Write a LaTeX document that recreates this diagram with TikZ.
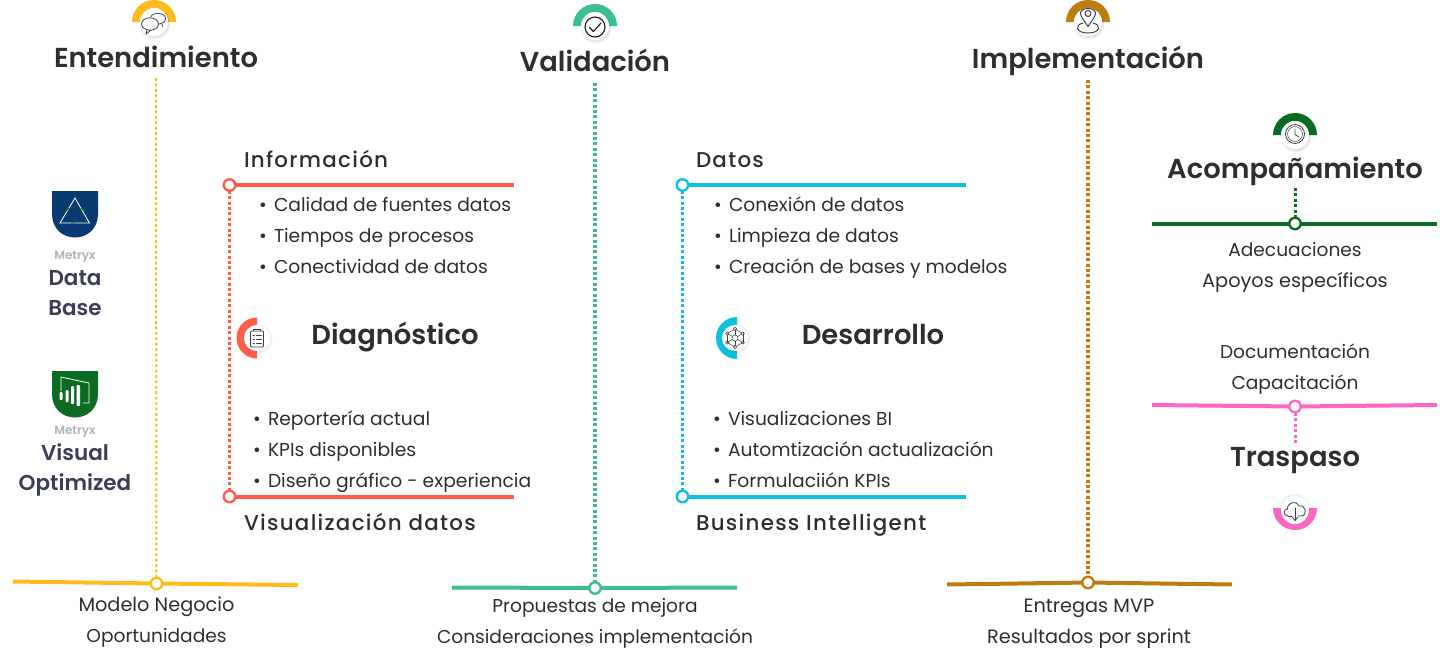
\documentclass[tikz,border=0pt]{standalone}
\usepackage{fontspec}
\setmainfont{Poppins}
\newfontfamily\semi{Poppins SemiBold}
\newfontfamily\spaced[LetterSpace=6]{Poppins Medium}
\newfontfamily\lite{Poppins}
\definecolor{ink}{HTML}{2E2E2E}
\definecolor{navy}{HTML}{3A3D55}
\definecolor{cY}{HTML}{FFBB1C}
\definecolor{cG}{HTML}{3CBE8F}
\definecolor{cB}{HTML}{BF7A10}
\definecolor{cD}{HTML}{0B6B22}
\definecolor{cP}{HTML}{FF66C4}
\definecolor{cR}{HTML}{FF5C4A}
\definecolor{cC}{HTML}{0CC0DF}
\definecolor{shN}{HTML}{0A3A72}
\definecolor{shG}{HTML}{0B6B22}
\tikzset{
  every node/.style={inner sep=0pt,outer sep=0pt},
  title/.style={font=\semi\fontsize{27.4}{30}\selectfont,text=ink,anchor=base},
  subt/.style={font=\spaced\fontsize{21.4}{24}\selectfont,text=ink,anchor=base west},
  body/.style={font=\lite\fontsize{18.6}{24}\selectfont,text=ink,anchor=base},
  bodyw/.style={font=\lite\fontsize{19.3}{24}\selectfont,text=ink,anchor=base},
  item/.style={font=\lite\fontsize{18.7}{24}\selectfont,text=ink,anchor=base west},
  logot/.style={font=\semi\fontsize{21.5}{24}\selectfont,text=navy,anchor=base},
  metr/.style={font=\semi\fontsize{12}{13}\selectfont,text=black!30,anchor=base},
  hub/.style={circle,draw=#1,line width=2.4pt,fill=white,minimum size=11.5pt},
  bar/.style={draw=#1,line width=4pt},
  dots/.style={draw=#1,line width=3pt,dash pattern=on 3pt off 2.4pt},
  disc/.style={circle,fill=white,minimum size=#1},
  icon/.style={draw=black!75,line width=.8pt,line join=round,line cap=round},
}
\newcommand{\topdisc}[4]{% x,y,color,name
  \fill[#3] (#1-22,#2) arc[start angle=180,end angle=360,radius=22] -- (#1+14,#2) arc[start angle=360,end angle=180,radius=14] -- cycle;
  \fill[black,opacity=.05] (#1+1,#2+2.5) circle[radius=15];
  \fill[black,opacity=.05] (#1+1,#2+1.5) circle[radius=14.5];
  \node[disc=28pt] (#4) at (#1,#2) {};
}
\newcommand{\itm}[1]{\makebox[15pt][l]{\textbullet}#1}
\begin{document}
\begin{tikzpicture}[x=1pt,y=-1pt]
\useasboundingbox (0,0) rectangle (1440,659);
\clip (0,0) rectangle (1440,659);

% ---- icons at top
\topdisc{154}{22}{cY}{iconA}
\draw[icon] (150,24) ellipse[x radius=8.5,y radius=6.2];
\draw[icon] (147,30) -- (146,34) -- (151,30.2);
\draw[icon] (151,16.5) .. controls (153,12) and (166,12) .. (165.5,19) .. controls (165.5,22) and (162,24) .. (159,24);
\draw[icon] (162,24) -- (162.5,26.5);

\topdisc{595}{26}{cG}{iconB}
\draw[icon,line width=1.1pt,draw=black!90] (595,27) circle[radius=10];
\draw[icon,line width=1.1pt,draw=black!90] (589.5,27.5) -- (593.5,31.5) -- (601,23);

\topdisc{1088}{22}{cB}{iconC}
\draw[icon,line width=1pt] (1088,26.5) .. controls (1084,20) and (1080.5,17) .. (1080.5,13) .. controls (1080.5,7) and (1095.5,7) .. (1095.5,13) .. controls (1095.5,17) and (1092,20) .. (1088,26.5);
\draw[icon,line width=1pt] (1088,13.5) circle[radius=3];
\draw[icon,line width=1pt] (1083,23) .. controls (1074,25) and (1076,33) .. (1088,33) .. controls (1100,33) and (1102,25) .. (1093,23);

\topdisc{1295}{135}{cD}{iconD}
\draw[icon,line width=.8pt] (1295,134) circle[radius=9.5];
\draw[icon,line width=.5pt] (1295,134) circle[radius=7.5];
\draw[icon] (1295,129) -- (1295,134.5) -- (1299,137);

% ---- left half discs
\fill[cR] (257,317.5) arc[start angle=270,end angle=90,radius=20.5] -- (257,351) arc[start angle=90,end angle=270,radius=13] -- cycle;
\fill[black,opacity=.06] (258.5,339) circle[radius=14];
\node[disc=26pt] (iconE) at (257,338) {};
\draw[icon,rounded corners=1pt] (250.5,331) rectangle (263.5,347);
\draw[icon] (253.5,331) -- (253.5,329) -- (260.5,329) -- (260.5,331);
\foreach \yy in {335,339,343} {\draw[icon,line width=.6pt] (253,\yy) -- (254.5,\yy) (256.5,\yy) -- (261.5,\yy);}

\fill[cC] (737,317) arc[start angle=270,end angle=90,radius=21] -- (737,351) arc[start angle=90,end angle=270,radius=13] -- cycle;
\fill[black,opacity=.06] (736.5,339) circle[radius=14];
\node[disc=26pt] (iconF) at (735,338) {};
\foreach \a in {30,90,150,210,270,330} {
  \draw[icon,line width=.5pt] (735,338) -- ++(\a:9);
  \draw[icon,line width=.5pt,fill=white] (735,338) ++(\a:9) circle[radius=1.7];
  \draw[icon,line width=.5pt] (735,338) ++(\a:9) -- ++(\a+120:9);
}
\draw[icon,line width=.5pt,fill=white] (735,338) circle[radius=3];

% bottom half disc
\fill[cP] (1273,508) arc[start angle=180,end angle=0,radius=22] -- (1309,508) arc[start angle=0,end angle=180,radius=14] -- cycle;
\fill[black,opacity=.05] (1295,508.5) circle[radius=15];
\node[disc=28pt] (iconG) at (1295,510) {};
\draw[icon] (1288,516) .. controls (1283,516) and (1283,509) .. (1287.5,509) .. controls (1287,502) and (1297,500) .. (1299,506) .. controls (1306,504) and (1308,516) .. (1301,516) -- (1298,516);
\draw[icon] (1292,516) -- (1288,516);
\draw[icon] (1295,508) -- (1295,520);
\draw[icon] (1292.5,517.5) -- (1295,520.5) -- (1297.5,517.5);

% ---- hubs
\node[hub=cY] (hA) at (156.5,583.5) {};
\node[hub=cG] (hB) at (595,588) {};
\node[hub=cB] (hC) at (1088,582.5) {};
\node[hub=cD] (hD) at (1295,223.5) {};
\node[hub=cP] (hE) at (1295,406.5) {};
\node[hub=cR] (hF) at (229.5,185) {};
\node[hub=cR] (hG) at (229.5,496.5) {};
\node[hub=cC] (hH) at (682.5,185) {};
\node[hub=cC] (hI) at (682.5,496.5) {};

\coordinate (tA) at (156,78);
\coordinate (tB) at (595,83);
\coordinate (tC) at (1088,80);
\coordinate (tD) at (1295,188);
\coordinate (tE) at (1295,443);

\draw[dots=cY,line width=2pt] (tA) -- (hA);
\draw[dots=cG,line width=3.4pt] (tB) -- (hB);
\draw[dots=cB,line width=3.4pt] (tC) -- (hC);
\draw[dots=cD] (tD) -- (hD);
\draw[dots=cP] (tE) -- (hE);
\draw[dots=cR,line width=3.2pt] (hF) -- (hG);
\draw[dots=cC,line width=3.2pt] (hH) -- (hI);

% ---- bars
\coordinate (a1) at (13,581.5); \coordinate (a2) at (298,585);
\coordinate (b1) at (452,587.5); \coordinate (b2) at (737,587.5);
\coordinate (c1) at (947,584.5); \coordinate (c2) at (1232,584.5);
\coordinate (d1) at (1152,223.5); \coordinate (d2) at (1437,223.5);
\coordinate (e1) at (1152,405); \coordinate (e2) at (1437,405);
\coordinate (f2) at (514,185); \coordinate (g2) at (514,496.5);
\coordinate (h2) at (966,185); \coordinate (i2) at (966,496.5);
\draw[bar=cY] (a1) -- (hA);\draw[bar=cY] (hA) -- (a2);
\draw[bar=cG] (b1) -- (hB);\draw[bar=cG] (hB) -- (b2);
\draw[bar=cB] (c1) -- (hC);\draw[bar=cB] (hC) -- (c2);
\draw[bar=cD] (d1) -- (hD);\draw[bar=cD] (hD) -- (d2);
\draw[bar=cP] (e1) -- (hE);\draw[bar=cP] (hE) -- (e2);
\draw[bar=cR] (hF) -- (f2);\draw[bar=cR] (hG) -- (g2);
\draw[bar=cC] (hH) -- (h2);\draw[bar=cC] (hI) -- (i2);

% ---- titles
\node[title] (t1) at (156,67) {Entendimiento};
\node[title] (t2) at (595,71) {Validación};
\node[title] (t3) at (1088,68) {Implementación};
\node[title] (t4) at (1295,178) {Acompañamiento};
\node[title] (t5) at (1295,466) {Traspaso};
\node[title] (t6) at (395,344) {Diagnóstico};
\node[title] (t7) at (873,344) {Desarrollo};

% ---- subtitles
\node[subt] (s1) at (244,167) {Información};
\node[subt] (s2) at (244,530) {Visualización datos};
\node[subt] (s3) at (696,167) {Datos};
\node[subt] (s4) at (696,530) {Business Intelligent};

% ---- items
\node[item] (i1) at (259,211) {\itm{Calidad de fuentes datos}};
\node[item] (i2) at (259,242) {\itm{Tiempos de procesos}};
\node[item] (i3) at (259,273) {\itm{Conectividad de datos}};
\node[item] (i4) at (253,425) {\itm{Reportería actual}};
\node[item] (i5) at (253,456) {\itm{KPIs disponibles}};
\node[item] (i6) at (253,487) {\itm{Diseño gráfico - experiencia}};
\node[item] (i7) at (714,211) {\itm{Conexión de datos}};
\node[item] (i8) at (714,242) {\itm{Limpieza de datos}};
\node[item] (i9) at (714,273) {\itm{Creación de bases y modelos}};
\node[item] (i10) at (713,425) {\itm{Visualizaciones BI}};
\node[item] (i11) at (713,456) {\itm{Automtización actualización}};
\node[item] (i12) at (713,487) {\itm{Formulaciión KPIs}};

% ---- body
\node[bodyw] (b01) at (156.5,611) {Modelo Negocio};
\node[body] (b02) at (156.5,642) {Oportunidades};
\node[body] (b03) at (595,612) {Propuestas de mejora};
\node[body] (b04) at (595,643) {Consideraciones implementación};
\node[bodyw] (b05) at (1089,612) {Entregas MVP};
\node[bodyw] (b06) at (1089,643) {Resultados por sprint};
\node[body] (b07) at (1295,256) {Adecuaciones};
\node[bodyw] (b08) at (1295,287) {Apoyos específicos};
\node[body] (b09) at (1295,358) {Documentación};
\node[body] (b10) at (1295,389) {Capacitación};

% ---- logos
\fill[shN] (52,191) -- (98,191) -- (98,214) .. controls (98,229) and (87,237.5) .. (75,237.5) .. controls (63,237.5) and (52,229) .. (52,214) -- cycle;
\draw[white,line width=.8pt] (75,198) -- (89.5,223) -- (60,223) -- cycle;
\draw[green!60!black,line width=1.3pt] (66,211) -- (69,208) (84,211) -- (81,208) (71,223) -- (75,223);
\node[metr] (m1) at (75,259) {Metryx};
\node[logot] (l1) at (75,285) {Data};
\node[logot] (l2) at (75,315) {Base};

\fill[shG] (52,371) -- (98,371) -- (98,394) .. controls (98,409) and (87,417.5) .. (75,417.5) .. controls (63,417.5) and (52,409) .. (52,394) -- cycle;
\draw[white,line width=.8pt] (61,391) -- (61,377) -- (89,383) -- (89,403) -- (83,403);
\fill[white,rounded corners=1pt] (59.5,392) rectangle (62.5,400);
\fill[white,rounded corners=1pt] (65.5,390) rectangle (68.5,402);
\fill[white,rounded corners=1pt] (71,386) rectangle (74,404);
\fill[white,rounded corners=1pt] (76.5,385) rectangle (80,406);
\node[metr] (m2) at (75,434) {Metryx};
\node[logot] (l3) at (75,460) {Visual};
\node[logot] (l4) at (75,490) {Optimized};
\end{tikzpicture}
\end{document}
